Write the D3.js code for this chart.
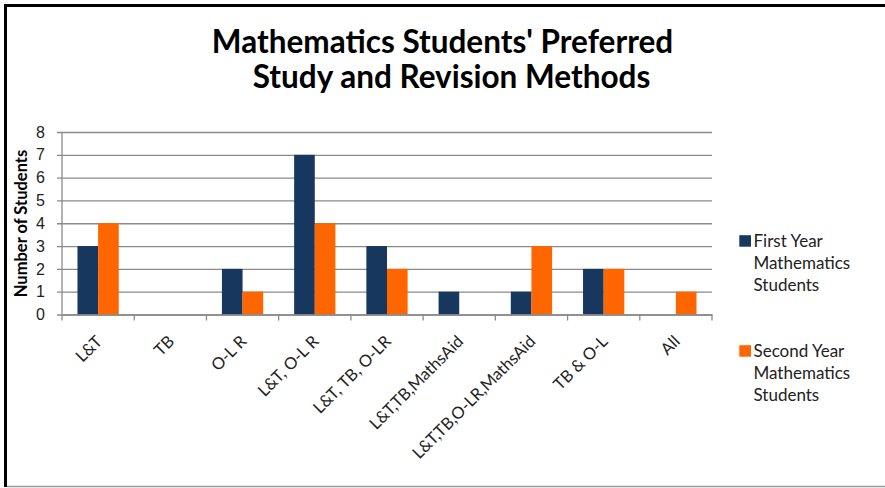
<!DOCTYPE html>
<html><head><meta charset="utf-8">
<script src="https://cdn.jsdelivr.net/npm/d3@7"></script>
<style>
html,body{margin:0;padding:0;background:#fff;}
svg{display:block;font-family:Lato,"Open Sans",sans-serif;}
</style></head>
<body><svg id="c" width="885" height="488"></svg>
<script>
const categories = ["L&T","TB","O-L R","L&T, O-L R","L&T, TB, O-LR","L&T,TB,MathsAid","L&T,TB,O-LR,MathsAid","TB & O-L","All"];
const firstYear  = [3,0,2,7,3,1,1,2,0];
const secondYear = [4,0,1,4,2,0,3,2,1];
const seriesNames = ["First Year Mathematics Students","Second Year Mathematics Students"];
const seriesColors = ["#17375E","#FF6600"];
const yTicks = [0,1,2,3,4,5,6,7,8];
const titleLines = ["Mathematics Students' Preferred","Study and Revision Methods"];
const yTitle = "Number of Students";

const svg = d3.select("#c");
// frame
svg.append("rect").attr("x",0).attr("y",0).attr("width",885).attr("height",488).attr("fill","#fff");
svg.append("line").attr("x1",5.5).attr("x2",5.5).attr("y1",4).attr("y2",487).attr("stroke","#000").attr("stroke-width",3);
svg.append("line").attr("x1",4).attr("x2",885).attr("y1",5.5).attr("y2",5.5).attr("stroke","#000").attr("stroke-width",3);
svg.append("line").attr("x1",7).attr("x2",885).attr("y1",486.5).attr("y2",486.5).attr("stroke","#9a9a9a").attr("stroke-width",1.5);

const L = 62, R = 712, T = 132, B = 314.5;
const x0 = d3.scaleBand().domain(categories).range([L,R]).padding(0);
const x1 = d3.scaleBand().domain([0,1]).range([0,x0.bandwidth()]).paddingInner(0).paddingOuter(0.75);
const y = d3.scaleLinear().domain([0,8]).range([B,T]);

// gridlines + y axis
const yAxis = d3.axisLeft(y).tickValues(yTicks).tickSize(-(R-L)).tickSizeOuter(0).tickPadding(10).tickFormat(d3.format("d"));
const gy = svg.append("g").attr("transform",`translate(${L},0)`).call(yAxis);
gy.select(".domain").remove();
gy.selectAll(".tick line").attr("stroke","#8a8a8a").attr("stroke-width",1.3).attr("x1",-5);
gy.selectAll(".tick text").attr("font-size",16).attr("fill","#222").attr("x",-17);
svg.append("line").attr("x1",L).attr("x2",L).attr("y1",T).attr("y2",B).attr("stroke","#8a8a8a").attr("stroke-width",1.3);

// bars
const data = categories.map((c,i)=>({c, v:[firstYear[i],secondYear[i]]}));
const g = svg.append("g");
data.forEach(d=>{
  d.v.forEach((v,j)=>{
    if(v<=0) return;
    g.append("rect").attr("x",x0(d.c)+x1(j)).attr("width",x1.bandwidth())
      .attr("y",y(v)).attr("height",y(0)-y(v)).attr("fill",seriesColors[j]);
  });
});

// x axis
const xAxis = d3.axisBottom(x0).tickSize(0).tickFormat(d=>d);
const gx = svg.append("g").attr("transform",`translate(0,${B})`).call(xAxis);
gx.select(".domain").attr("stroke","#8a8a8a").attr("stroke-width",1.3);
gx.selectAll(".tick text").remove();
const bounds = categories.map(c=>x0(c)).concat([R]);
bounds.forEach(b=>{
  svg.append("line").attr("x1",b).attr("x2",b).attr("y1",B).attr("y2",B+6).attr("stroke","#8a8a8a").attr("stroke-width",1.3);
});
categories.forEach(c=>{
  const cx = x0(c)+x0.bandwidth()/2;
  svg.append("text").attr("transform",`translate(${cx+5},${B+28}) rotate(-45)`)
    .attr("text-anchor","end").attr("font-size",16.5).attr("fill","#222").text(c);
});

// title
svg.append("text").attr("x",442.5).attr("y",53).attr("text-anchor","middle").attr("font-size",31.5).attr("font-weight","bold").attr("fill","#000").text(titleLines[0]);
svg.append("text").attr("x",451.5).attr("y",88).attr("text-anchor","middle").attr("font-size",31.5).attr("font-weight","bold").attr("fill","#000").text(titleLines[1]);

// y title
svg.append("text").attr("transform",`translate(27,223.5) rotate(-90)`).attr("text-anchor","middle")
  .attr("font-size",16.5).attr("font-weight","bold").attr("fill","#000").text(yTitle);

// legend
const legendBase = [246.7, 356.7];
const legendLines = [["First Year","Mathematics","Students"],["Second Year","Mathematics","Students"]];
legendLines.forEach((lines,i)=>{
  svg.append("rect").attr("x",739.3).attr("y",legendBase[i]-11.5).attr("width",11.7).attr("height",11.5).attr("fill",seriesColors[i]);
  const t = svg.append("text").attr("x",753.5).attr("y",legendBase[i]).attr("font-size",17).attr("fill","#222");
  lines.forEach((l,k)=>t.append("tspan").attr("x",753.5).attr("dy",k===0?0:22.2).text(l));
});
</script></body></html>
